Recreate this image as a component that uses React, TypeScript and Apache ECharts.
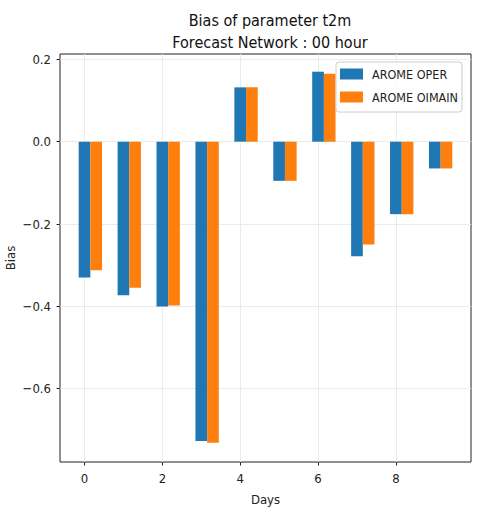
import React, { useEffect, useRef } from "react";
import * as echarts from "echarts";

const days = [0, 1, 2, 3, 4, 5, 6, 7, 8, 9];
const aromeOper = [-0.33, -0.373, -0.4, -0.727, 0.132, -0.095, 0.17, -0.278, -0.176, -0.065];
const aromeOimain = [-0.312, -0.355, -0.398, -0.731, 0.132, -0.095, 0.165, -0.25, -0.176, -0.065];
const xTicks = [0, 2, 4, 6, 8];
const yTicks = [-0.6, -0.4, -0.2, 0.0, 0.2];
const seriesNames = ["AROME OPER", "AROME OIMAIN"];

const BAR_W = 0.3;
const FONT = "'DejaVu Sans Condensed', 'DejaVu Sans', sans-serif";

function barRender(params: any, api: any) {
  const x = api.value(0);
  const v = api.value(1);
  const p0 = api.coord([x - BAR_W / 2, 0]);
  const p1 = api.coord([x + BAR_W / 2, v]);
  return {
    type: "rect",
    shape: {
      x: p0[0],
      y: Math.min(p0[1], p1[1]),
      width: p1[0] - p0[0],
      height: Math.abs(p1[1] - p0[1]),
    },
    style: { fill: api.visual("color") },
  };
}

export default function App() {
  const ref = useRef<HTMLDivElement>(null);
  useEffect(() => {
    if (!ref.current) return;
    const chart = echarts.init(ref.current, undefined, { renderer: "svg" });
    chart.setOption({
      animation: false,
      backgroundColor: "#ffffff",
      textStyle: { fontFamily: FONT },
      title: {
        text: "Bias of parameter t2m\nForecast Network : 00 hour",
        left: 265,
        textAlign: "center",
        top: 4,
        textStyle: {
          fontFamily: FONT,
          fontSize: 16,
          fontWeight: "normal",
          color: "#111",
          lineHeight: 22,
        },
      },
      legend: {
        orient: "vertical",
        left: 336,
        top: 62,
        data: seriesNames,
        icon: "rect",
        itemWidth: 23,
        itemHeight: 11,
        itemGap: 9,
        padding: [5, 4, 8, 4],
        borderColor: "#cccccc",
        borderWidth: 1,
        borderRadius: 3,
        backgroundColor: "rgba(255,255,255,0.85)",
        textStyle: {
          fontFamily: FONT,
          fontSize: 12.5,
          color: "#222",
          lineHeight: 14,
          padding: [0, 0, 0, 4],
        },
        z: 10,
      },
      grid: {
        left: 60,
        top: 54,
        width: 411,
        height: 408,
        show: true,
        borderColor: "#222",
        borderWidth: 1,
        backgroundColor: "transparent",
        containLabel: false,
        outerBoundsMode: "none",
      },
      xAxis: {
        type: "value",
        min: -0.63,
        max: 9.93,
        name: "Days",
        nameLocation: "middle",
        nameGap: 31,
        nameMoveOverlap: false,
        nameTextStyle: { fontFamily: FONT, fontSize: 13, color: "#222" },
        axisLine: { show: false, onZero: false },
        axisTick: {
          show: true,
          length: 3.5,
          lineStyle: { color: "#222" },
          customValues: xTicks,
        },
        axisLabel: {
          margin: 10,
          fontFamily: FONT,
          fontSize: 13,
          color: "#222",
          customValues: xTicks,
          formatter: (v: number) => String(v),
        },
        splitLine: { show: true, lineStyle: { color: "#ebebeb", width: 1 } },
      },
      yAxis: {
        type: "value",
        min: -0.778,
        max: 0.213,
        name: "Bias",
        nameLocation: "middle",
        nameGap: 43,
        nameMoveOverlap: false,
        nameTextStyle: { fontFamily: FONT, fontSize: 13, color: "#222" },
        axisLine: { show: false, onZero: false },
        axisTick: {
          show: true,
          length: 3.5,
          lineStyle: { color: "#222" },
          customValues: yTicks,
        },
        axisLabel: {
          margin: 9,
          fontFamily: FONT,
          fontSize: 13,
          color: "#222",
          customValues: yTicks,
          formatter: (v: number) => (v < 0 ? "\u2212" + Math.abs(v).toFixed(1) : v.toFixed(1)),
        },
        splitLine: { show: true, lineStyle: { color: "#ebebeb", width: 1 } },
      },
      series: [
        {
          name: seriesNames[0],
          type: "custom",
          renderItem: barRender,
          itemStyle: { color: "#1f77b4" },
          encode: { x: 0, y: 1 },
          data: days.map((d, i) => [d, aromeOper[i]]),
          clip: true,
          z: 3,
        },
        {
          name: seriesNames[1],
          type: "custom",
          renderItem: barRender,
          itemStyle: { color: "#ff7f0e" },
          encode: { x: 0, y: 1 },
          data: days.map((d, i) => [d + BAR_W, aromeOimain[i]]),
          clip: true,
          z: 3,
        },
      ],
    });
    return () => chart.dispose();
  }, []);
  return (
    <div
      ref={ref}
      style={{ position: "fixed", left: 0, top: 0, width: 478, height: 517 }}
    />
  );
}
